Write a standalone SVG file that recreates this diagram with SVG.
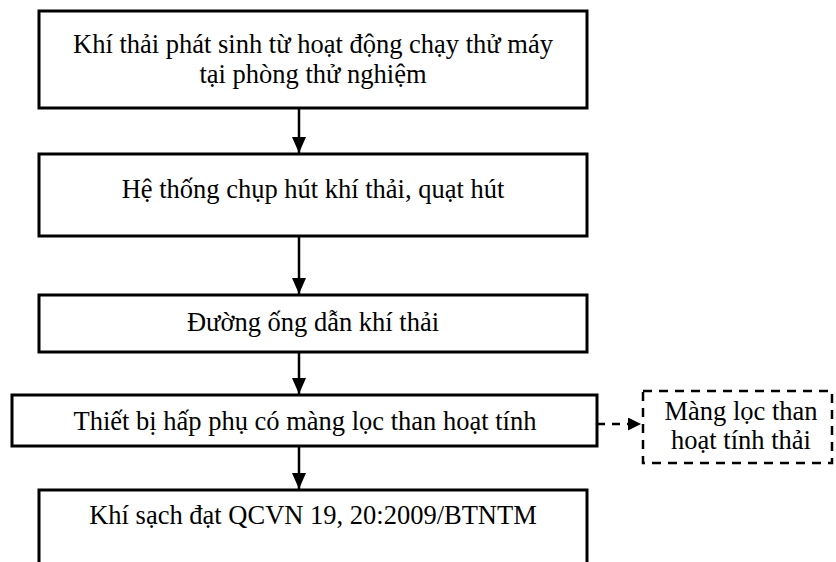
<svg xmlns="http://www.w3.org/2000/svg" width="836" height="562" viewBox="0 0 836 562">
<defs>
<style>
.box{fill:#fff;stroke:#000;stroke-width:3}
.dbox{fill:#fff;stroke:#000;stroke-width:2.5;stroke-dasharray:9,7}
.t{font-family:"Liberation Serif","Times New Roman",serif;font-size:26.5px;fill:#000;text-anchor:middle}
.ln{stroke:#000;stroke-width:2.5;fill:none}
.dln{stroke:#000;stroke-width:2.5;fill:none;stroke-dasharray:8,7}
</style>
<marker id="ah" viewBox="0 0 16 14" refX="16" refY="7" markerWidth="16" markerHeight="14" markerUnits="userSpaceOnUse" orient="auto">
<path d="M0,0 L16,7 L0,14 Z" fill="#000"/>
</marker>
<marker id="ahd" viewBox="0 0 13 13" refX="13" refY="6.5" markerWidth="13" markerHeight="13" markerUnits="userSpaceOnUse" orient="auto">
<path d="M0,0 L13,6.5 L0,13 Z" fill="#000"/>
</marker>
</defs>
<rect width="836" height="562" fill="#fff"/>
<g id="connectors">
<line class="ln" x1="299" y1="108" x2="299" y2="153" marker-end="url(#ah)"/>
<line class="ln" x1="299" y1="236" x2="299" y2="294" marker-end="url(#ah)"/>
<line class="ln" x1="299" y1="352" x2="299" y2="394" marker-end="url(#ah)"/>
<line class="ln" x1="299" y1="446" x2="299" y2="489" marker-end="url(#ah)"/>
<line class="dln" x1="597" y1="424" x2="641" y2="424" marker-end="url(#ahd)"/>
</g>
<g id="n1">
<rect class="box" x="39" y="11" width="548" height="97"/>
<text class="t" x="313" y="53">Khí thải phát sinh từ hoạt động chạy thử máy</text>
<text class="t" x="313" y="83">tại phòng thử nghiệm</text>
</g>
<g id="n2">
<rect class="box" x="39" y="154" width="548" height="82"/>
<text class="t" x="313" y="198">Hệ thống chụp hút khí thải, quạt hút</text>
</g>
<g id="n3">
<rect class="box" x="39" y="295" width="548" height="57"/>
<text class="t" x="313" y="331">Đường ống dẫn khí thải</text>
</g>
<g id="n4">
<rect class="box" x="12" y="395" width="585" height="51"/>
<text class="t" x="305" y="430">Thiết bị hấp phụ có màng lọc than hoạt tính</text>
</g>
<g id="n5">
<rect class="box" x="39" y="490" width="548" height="90"/>
<text class="t" x="313" y="524">Khí sạch đạt QCVN 19, 20:2009/BTNTM</text>
</g>
<g id="n6">
<rect class="dbox" x="643" y="391" width="189" height="72"/>
<text class="t" x="741" y="420">Màng lọc than</text>
<text class="t" x="741" y="449">hoạt tính thải</text>
</g>
</svg>
